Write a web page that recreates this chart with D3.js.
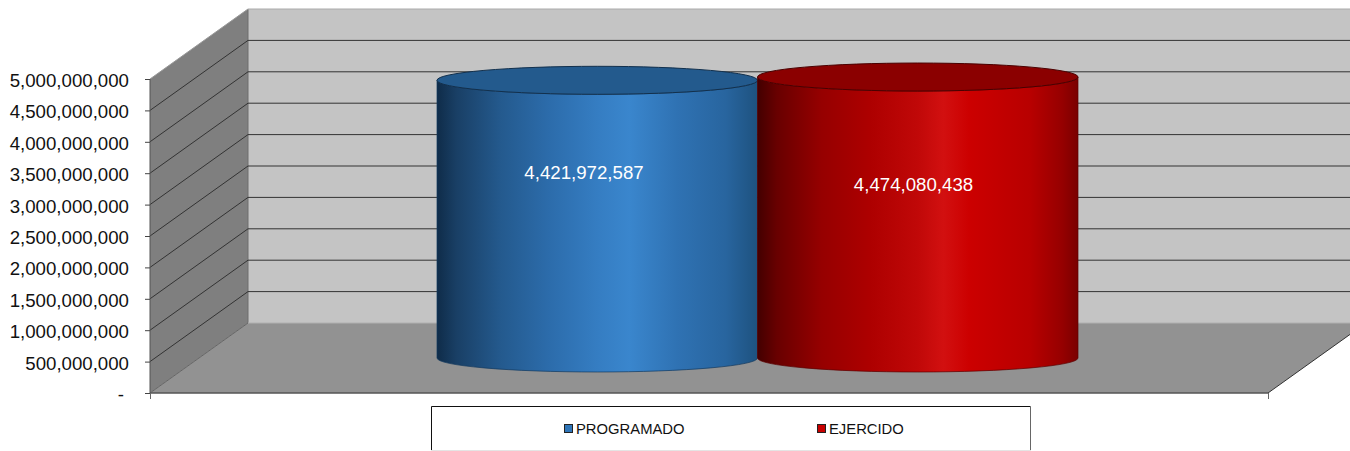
<!DOCTYPE html>
<html><head><meta charset="utf-8">
<script src="https://cdn.jsdelivr.net/npm/d3@7"></script>
<style>html,body{margin:0;padding:0;background:#fff;overflow:hidden}svg{display:block}text{font-family:"Liberation Sans",Arial,sans-serif}</style>
</head><body><div id="c"></div>
<script>
const seriesNames = ["PROGRAMADO","EJERCIDO"];
const seriesValues = [4421972587,4474080438];
const seriesLabels = ["4,421,972,587","4,474,080,438"];
const tickValues = [0,5e8,1e9,1.5e9,2e9,2.5e9,3e9,3.5e9,4e9,4.5e9,5e9];
const tickLabels = ["-","500,000,000","1,000,000,000","1,500,000,000","2,000,000,000","2,500,000,000","3,000,000,000","3,500,000,000","4,000,000,000","4,500,000,000","5,000,000,000"];

const W=1350,H=451;
const svg=d3.select("#c").append("svg").attr("width",W).attr("height",H);
const y=d3.scaleLinear().domain([0,5e9]).range([393,79]);
const x0=150,x1=1268,dx=98,dy=-70;
const line=d3.line();
const defs=svg.append("defs");
function grad(id,stops){const g=defs.append("linearGradient").attr("id",id);
  stops.forEach(s=>g.append("stop").attr("offset",s[0]).attr("stop-color",s[1]));}
grad("g0",[[0,"#0f2c49"],[.06,"#193f65"],[.2,"#245a8e"],[.35,"#2c6cab"],[.5,"#357dc2"],[.6,"#3a86cd"],[.75,"#2f72b3"],[.9,"#28659f"],[1,"#1e527f"]]);
grad("g1",[[0,"#430000"],[.06,"#680000"],[.2,"#960000"],[.35,"#ad0000"],[.5,"#c00808"],[.58,"#d21010"],[.66,"#cc0000"],[.85,"#b80000"],[.95,"#960000"],[1,"#7a0000"]]);

// walls
const y0=y(0),y5=y(5e9);
svg.append("path").attr("d",line([[x0+dx,y5+dy],[W+30,y5+dy],[W+30,y0+dy],[x0+dx,y0+dy]])+"Z").attr("fill","#c4c4c4");
svg.append("path").attr("d",line([[x0,y0],[x1,y0],[x1+dx,y0+dy],[x0+dx,y0+dy]])+"Z").attr("fill","#929292");
svg.append("path").attr("d",line([[x0,y5],[x0+dx,y5+dy],[x0+dx,y0+dy],[x0,y0]])+"Z").attr("fill","#7f7f7f");
svg.append("line").attr("x1",x0+dx).attr("x2",x0+dx).attr("y1",y5+dy).attr("y2",y0+dy).attr("stroke","#6f6f6f").attr("stroke-width",1);
svg.append("line").attr("x1",x0+dx).attr("x2",W).attr("y1",y5+dy).attr("y2",y5+dy).attr("stroke","#aaa").attr("stroke-width",1);
svg.append("line").attr("x1",x0+dx).attr("x2",W).attr("y1",y0+dy).attr("y2",y0+dy).attr("stroke","#b0b0b0").attr("stroke-width",1);
svg.append("line").attr("x1",x0).attr("y1",y5).attr("x2",x0+dx).attr("y2",y5+dy).attr("stroke","#999").attr("stroke-width",1);
svg.append("line").attr("x1",x0).attr("y1",y0).attr("x2",x0+dx).attr("y2",y0+dy).attr("stroke","#666").attr("stroke-width",1);

// gridlines
tickValues.slice(1,-1).forEach(v=>{
  svg.append("path").attr("d",line([[x0,y(v)],[x0+dx,y(v)+dy],[W+30,y(v)+dy]])).attr("fill","none").attr("stroke","#333").attr("stroke-width",1);
});
// right floor edge + front axis
svg.append("line").attr("x1",x1).attr("y1",y0).attr("x2",x1+dx).attr("y2",y0+dy).attr("stroke","#333").attr("stroke-width",1);
svg.append("line").attr("x1",x0).attr("x2",x1).attr("y1",y0).attr("y2",y0).attr("stroke","#555").attr("stroke-width",1.5);
svg.append("line").attr("x1",x0).attr("x2",x0).attr("y1",y5).attr("y2",y0).attr("stroke","#555").attr("stroke-width",1);
[x0,x1].forEach(x=>svg.append("line").attr("x1",x+.5).attr("x2",x+.5).attr("y1",y0).attr("y2",y0+6).attr("stroke","#666"));

// y axis
const axis=d3.axisLeft(y).tickValues(tickValues).tickSize(5).tickPadding(16).tickFormat((d,i)=>tickLabels[i]);
const ga=svg.append("g").attr("transform",`translate(${x0},0)`).call(axis);
ga.select(".domain").remove();
ga.selectAll("line").attr("stroke","#444");
ga.selectAll("text").attr("font-size","18.67px").attr("fill","#111").attr("x",d=>d===0?-26:-21).attr("dy","0.4em");

// cylinders
const xPlot=d3.scaleBand().domain(seriesNames).range([437,1078]).padding(0);
const midDx=dx/2,midDy=dy/2;
const ry=14;
const rows=seriesNames.map((n,i)=>({n,v:seriesValues[i],l:seriesLabels[i],i}));
const tops=["#235a8d","#8b0000"];
const bars=svg.selectAll("g.b").data(rows).join("g").attr("class","b");
bars.each(function(d){
  const g=d3.select(this),a=xPlot(d.n),w=xPlot.bandwidth(),rx=w/2,cx=a+rx;
  const yb=y(0)+midDy,yt=y(d.v)+midDy;
  g.append("path").attr("d",`M${a},${yt}L${a},${yb}A${rx},${ry} 0 0 0 ${a+w},${yb}L${a+w},${yt}A${rx},${ry} 0 0 1 ${a},${yt}Z`)
    .attr("fill",`url(#g${d.i})`).attr("stroke",d.i?"#5a0000":"#123a5f").attr("stroke-width",.7);
  g.append("ellipse").attr("cx",cx).attr("cy",yt).attr("rx",rx).attr("ry",ry)
    .attr("fill",tops[d.i]).attr("stroke",d.i?"#4a0000":"#12304d").attr("stroke-width",1);
});
bars.append("text").attr("x",d=>xPlot(d.n)+(d.i?156:147)).attr("y",d=>d.i?191:179)
  .attr("text-anchor","middle").attr("fill","#fff").attr("font-size","18.67px").text(d=>d.l);

// legend
const lg=svg.append("g");
lg.append("rect").attr("x",431).attr("y",406).attr("width",600).attr("height",45).attr("fill","#fff");
lg.append("path").attr("d",line([[431.5,451],[431.5,406.5],[1030.5,406.5]])).attr("fill","none").attr("stroke","#111");
lg.append("path").attr("d",line([[1030.5,406.5],[1030.5,451]])).attr("fill","none").attr("stroke","#666");
lg.append("line").attr("x1",431).attr("x2",1031).attr("y1",450.5).attr("y2",450.5).attr("stroke","#e4e4e4");
const lx=d3.scalePoint().domain(seriesNames).range([564,817]);
const fills=["#2f75b8","#c80000"];
rows.forEach(d=>{
  lg.append("rect").attr("x",lx(d.n)+.5).attr("y",424.5).attr("width",8).attr("height",8).attr("fill",fills[d.i]).attr("stroke","#222").attr("stroke-width",1);
  lg.append("text").attr("x",lx(d.n)+12).attr("y",434).attr("font-size","14.8px").attr("fill","#111").text(d.n);
});
</script></body></html>
